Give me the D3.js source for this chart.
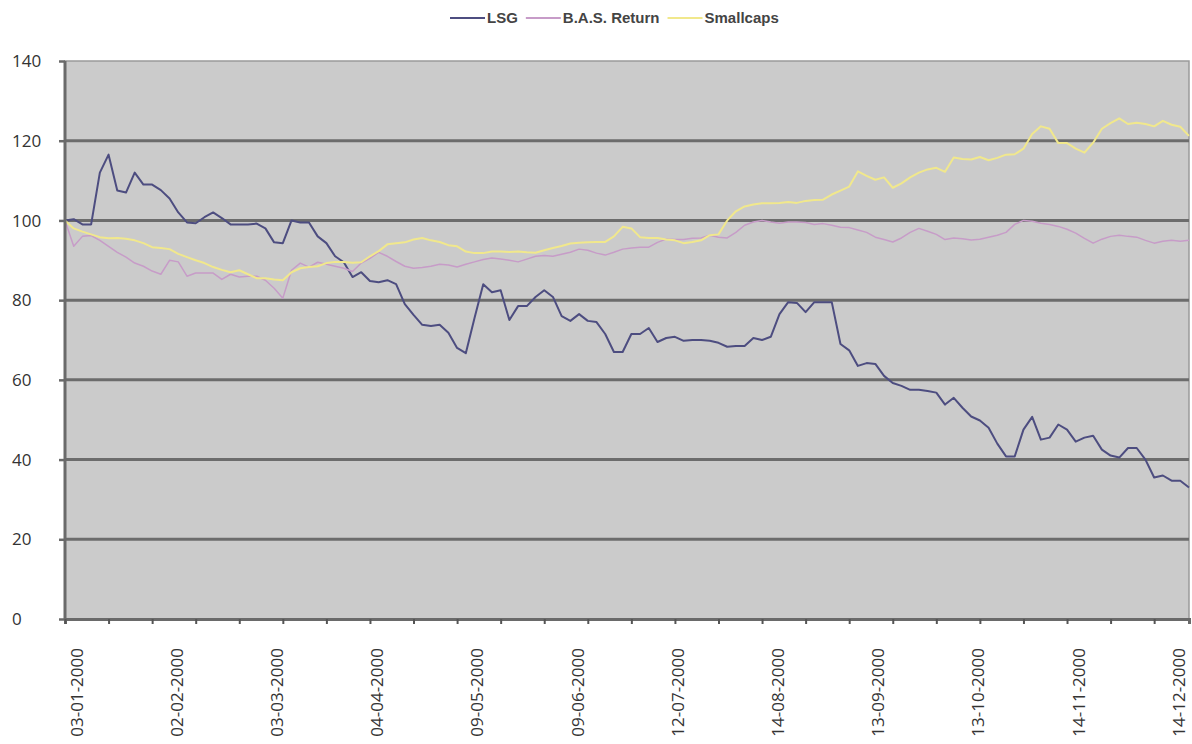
<!DOCTYPE html>
<html><head><meta charset="utf-8">
<script src="https://cdn.jsdelivr.net/npm/d3@7"></script>
<style>body{margin:0;background:#fff}svg{display:block}</style>
</head><body><svg id="c" width="1192" height="744"></svg>
<script>
// ---- data (one sample every 2 trading days) ----
const seriesNames = ["LSG", "B.A.S. Return", "Smallcaps"];
const sampleStep = 2;      // trading days between samples
const lastDay = 258;       // index of last trading day
const lsg = [
100,100.3,99,99,112,116.5,107.5,107,112,109,
109,107.6,105.5,102,99.5,99.3,100.8,102,100.6,99,
99,99,99.2,98,94.5,94.3,100,99.5,99.5,96,
94.3,91,89.5,85.8,87,84.8,84.5,85,84,79,
76.3,73.8,73.5,73.8,71.8,68,66.7,75.5,84,82,
82.5,75,78.5,78.5,80.8,82.5,80.8,76,74.8,76.5,
74.8,74.5,71.5,67,67,71.5,71.5,73,69.5,70.5,
70.8,69.8,70,70,69.8,69.3,68.3,68.5,68.5,70.5,
70,70.8,76.5,79.5,79.3,77,79.5,79.5,79.5,69,
67.4,63.5,64.2,64,61,59.2,58.5,57.5,57.5,57.2,
56.8,53.8,55.5,53,50.8,49.8,48,44,40.8,40.8,
47.5,50.7,45,45.5,48.8,47.5,44.5,45.5,46,42.5,
41,40.5,42.9,42.9,40,35.5,36,34.7,34.7,33];
const bas = [
100,93.5,96,96.2,95,93.5,92,90.8,89.3,88.5,
87.3,86.5,90,89.6,86,86.8,86.8,86.8,85.2,86.5,
85.8,86,86,85,83,80.5,87.5,89.3,88.3,89.5,
89,88.5,88,87.2,89.3,90.5,92,91,89.7,88.5,
88,88.2,88.5,89,88.8,88.3,89,89.6,90.2,90.6,
90.3,90,89.6,90.3,91,91.2,91,91.5,92,92.8,
92.5,91.8,91.3,92,92.8,93.1,93.3,93.3,94.5,95.3,
95.2,95.2,95.5,95.6,96.3,95.8,95.6,97,98.8,99.6,
100,99.6,99.3,99.6,99.6,99.5,99,99.2,98.8,98.3,
98.2,97.6,97,95.8,95.2,94.6,95.6,97,98,97.3,
96.5,95.2,95.6,95.4,95.1,95.3,95.8,96.3,97,99,
100,99.8,99.3,99,98.5,97.8,96.8,95.5,94.3,95.3,
96,96.3,96,95.8,95,94.3,94.8,95,94.8,95];
const smallcaps = [
100,98,97.2,96.5,95.8,95.5,95.6,95.4,95,94.3,
93.3,93.1,92.8,91.6,90.8,90,89.3,88.3,87.6,87,
87.5,86.5,85.5,85.5,85.2,85,87,88,88.3,88.5,
89.3,89.6,89.6,89.4,89.5,91,92.3,94,94.3,94.5,
95.2,95.6,95,94.6,93.8,93.5,92.2,91.8,91.8,92.2,
92.2,92.1,92.2,92,91.9,92.5,93.1,93.6,94.2,94.4,
94.5,94.6,94.6,96,98.4,98,95.8,95.6,95.6,95.2,
95,94.3,94.6,95,96.3,96.5,100,102.3,103.5,104,
104.3,104.3,104.4,104.6,104.4,104.9,105.1,105.2,106.5,107.5,
108.5,112.3,111.2,110.2,110.8,108.2,109.3,110.8,112,112.8,
113.2,112.2,115.8,115.4,115.3,115.9,115.1,115.7,116.5,116.6,
118,121.7,123.6,123,119.4,119.4,118,117,119.5,123,
124.4,125.6,124.2,124.5,124.2,123.6,125,124,123.5,121.2];
const yTicks = [0, 20, 40, 60, 80, 100, 120, 140];
const dateLabels = ["03-01-2000","02-02-2000","03-03-2000","04-04-2000","09-05-2000","09-06-2000",
  "12-07-2000","14-08-2000","13-09-2000","13-10-2000","14-11-2000","14-12-2000"];
const labelEvery = 23;   // trading days between date labels
const tickEvery = 10;    // trading days between tick marks

// ---- styles ----
const colors = ["#4d4d80", "#c79cc8", "#f1e88c"];
const widths = [2, 1.5, 2];
const svg = d3.select("#c");
const L = 65, R = 1189, T = 61, B = 619;

const days = d3.range(0, lastDay + 1, sampleStep);
const x = d3.scaleLinear().domain([0, lastDay]).range([L, R]);
const y = d3.scaleLinear().domain([0, 140]).range([B, T]);

svg.append("rect").attr("width", 1192).attr("height", 744).attr("fill", "#fff");
svg.append("rect").attr("x", L).attr("y", T).attr("width", R - L).attr("height", B - T)
  .attr("fill", "#cbcbcb").attr("stroke", "#9a9a9a").attr("stroke-width", 1.5);

// gridlines + y ticks
const yAxis = d3.axisLeft(y).tickValues(yTicks).tickSize(6).tickFormat("");
const gy = svg.append("g").attr("transform", `translate(${L},0)`).call(yAxis);
gy.select(".domain").remove();
gy.selectAll(".tick line").attr("stroke", "#6a6a6a").attr("stroke-width", 2.5);
svg.append("g").selectAll("line").data(yTicks.filter(v => v > 0 && v < 140)).join("line")
  .attr("x1", L).attr("x2", R).attr("y1", d => y(d)).attr("y2", d => y(d))
  .attr("stroke", "#6c6c6c").attr("stroke-width", 3);
svg.append("g").selectAll("text").data(yTicks).join("text")
  .attr("x", 12).attr("y", d => y(d)).attr("dy", "0.36em")
  .attr("font-family", "'Open Sans', 'Liberation Sans', sans-serif").attr("font-size", 17)
  .attr("fill", "#333").text(d => d);

// series lines
const allSeries = [lsg, bas, smallcaps];
const line = d3.line().x((d, i) => x(days[i])).y(d => y(d));
allSeries.forEach((s, si) => {
  svg.append("path").datum(s).attr("d", line).attr("fill", "none")
    .attr("stroke", colors[si]).attr("stroke-width", widths[si]).attr("stroke-linejoin", "round");
});

// axes lines
svg.append("line").attr("x1", L).attr("x2", L).attr("y1", T).attr("y2", B)
  .attr("stroke", "#6a6a6a").attr("stroke-width", 3);
const xAxis = d3.axisBottom(x).tickValues(d3.range(0, lastDay + 1, tickEvery)).tickSize(5).tickFormat("");
const gx = svg.append("g").attr("transform", `translate(0,${B})`).call(xAxis);
gx.select(".domain").attr("stroke", "#6a6a6a").attr("stroke-width", 3);
gx.selectAll(".tick line").attr("stroke", "#555").attr("stroke-width", 2);

// date labels
svg.append("g").selectAll("text").data(dateLabels).join("text")
  .attr("transform", (d, i) => `translate(${x(i * labelEvery) + 11},${B + 29}) rotate(-90)`)
  .attr("text-anchor", "end").attr("dominant-baseline", "central")
  .attr("font-family", "'Open Sans', 'Liberation Sans', sans-serif").attr("font-size", 17)
  .attr("fill", "#333").text(d => d);

// legend
const lg = svg.append("g");
let lx = 450;
seriesNames.forEach((n, i) => {
  lg.append("line").attr("x1", lx).attr("x2", lx + 35).attr("y1", 18).attr("y2", 18)
    .attr("stroke", colors[i]).attr("stroke-width", 2);
  const t = lg.append("text").attr("x", lx + 37).attr("y", 18).attr("dy", "0.36em")
    .attr("font-family", "'Liberation Sans', Arial, sans-serif").attr("font-weight", "bold")
    .attr("font-size", 15).attr("fill", "#444").text(n);
  lx += 37 + t.node().getComputedTextLength() + 8;
});
</script></body></html>
